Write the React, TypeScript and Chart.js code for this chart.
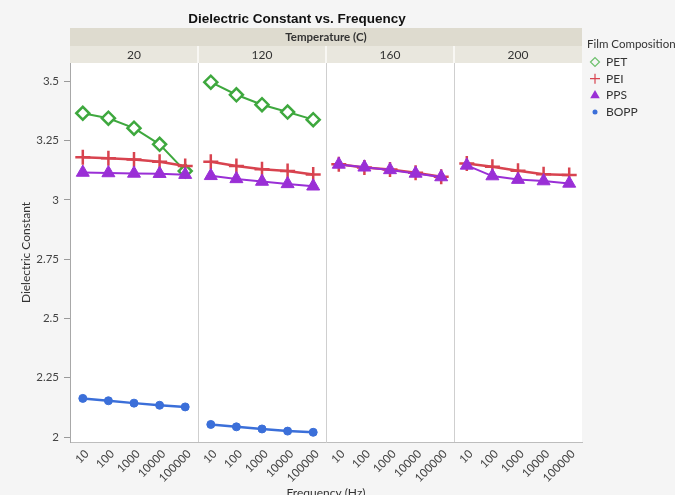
import React, { useEffect, useRef } from 'react';
import { Chart, registerables } from 'chart.js';

Chart.register(...registerables);

const chartTitle = 'Dielectric Constant vs. Frequency';
const groupTitle = 'Temperature (C)';
const legendTitle = 'Film Composition';
const xTitle = 'Frequency (Hz)';
const yTitle = 'Dielectric Constant';

const frequencies = ['10', '100', '1000', '10000', '100000'];
const temperatures = ['20', '120', '160', '200'];
const yTicks = [2, 2.25, 2.5, 2.75, 3, 3.25, 3.5];

// one array per temperature panel (null = no data in that panel)
const PET: (number[] | null)[] = [
  [3.366, 3.345, 3.303, 3.235, 3.122],
  [3.497, 3.444, 3.402, 3.371, 3.339],
  null,
  null,
];
const PEI: (number[] | null)[] = [
  [3.180, 3.176, 3.171, 3.161, 3.143],
  [3.161, 3.143, 3.130, 3.122, 3.108],
  [3.151, 3.137, 3.129, 3.115, 3.098],
  [3.154, 3.140, 3.123, 3.109, 3.105],
];
const PPS: (number[] | null)[] = [
  [3.116, 3.114, 3.112, 3.111, 3.107],
  [3.102, 3.089, 3.078, 3.068, 3.058],
  [3.150, 3.138, 3.127, 3.112, 3.097],
  [3.146, 3.101, 3.086, 3.080, 3.070],
];
const BOPP: (number[] | null)[] = [
  [2.163, 2.153, 2.143, 2.134, 2.127],
  [2.053, 2.043, 2.034, 2.025, 2.020],
  null,
  null,
];

const seriesNames = ['PET', 'PEI', 'PPS', 'BOPP'];
const seriesData = [PET, PEI, PPS, BOPP];

const FONT = 'Lato, "Noto Sans", sans-serif';

const styles: any[] = [
  { color: '#3ea83e', pointStyle: 'rectRot', radius: 6.5, pointBorderWidth: 2.5, bg: '#ffffff', lineWidth: 2, order: 3 },
  { color: '#d8434f', pointStyle: 'cross', radius: 7.5, pointBorderWidth: 2.5, bg: '#d8434f', lineWidth: 2.5, order: 2 },
  { color: '#9a2fd6', pointStyle: 'triangle', radius: 7.5, pointBorderWidth: 1, bg: '#9a2fd6', lineWidth: 2, order: 1 },
  { color: '#3b6fd9', pointStyle: 'circle', radius: 4, pointBorderWidth: 1, bg: '#3b6fd9', lineWidth: 2.5, order: 0 },
];

function drawMarker(ctx: CanvasRenderingContext2D, kind: string, x: number, y: number, color: string) {
  ctx.save();
  ctx.strokeStyle = color;
  ctx.fillStyle = color;
  ctx.lineWidth = 1.2;
  ctx.beginPath();
  if (kind === 'rectRot') {
    const r = 4.5;
    ctx.moveTo(x - r, y);
    ctx.lineTo(x, y - r);
    ctx.lineTo(x + r, y);
    ctx.lineTo(x, y + r);
    ctx.closePath();
    ctx.strokeStyle = '#6cc06c';
    ctx.stroke();
  } else if (kind === 'cross') {
    const r = 5;
    ctx.moveTo(x - r, y);
    ctx.lineTo(x + r, y);
    ctx.moveTo(x, y - r);
    ctx.lineTo(x, y + r);
    ctx.stroke();
  } else if (kind === 'triangle') {
    const r = 5.5;
    ctx.moveTo(x, y - r);
    ctx.lineTo(x + r * 0.87, y + r * 0.5);
    ctx.lineTo(x - r * 0.87, y + r * 0.5);
    ctx.closePath();
    ctx.fill();
  } else {
    ctx.arc(x, y, 2.5, 0, Math.PI * 2);
    ctx.fill();
  }
  ctx.restore();
}

const decorPlugin = {
  id: 'decor',
  beforeDraw(chart: any) {
    const { ctx, chartArea, width, height } = chart;
    const x = chart.scales.x;
    ctx.save();
    ctx.fillStyle = '#f5f5f5';
    ctx.fillRect(0, 0, width, height);
    ctx.fillStyle = '#ffffff';
    ctx.fillRect(chartArea.left, chartArea.top, chartArea.right - chartArea.left, chartArea.bottom - chartArea.top);
    // header bands
    const b1Top = chartArea.top - 35;
    const b2Top = chartArea.top - 17;
    ctx.fillStyle = '#dedbcf';
    ctx.fillRect(chartArea.left, b1Top, chartArea.right - chartArea.left, 18);
    ctx.fillStyle = '#e9e7de';
    ctx.fillRect(chartArea.left, b2Top, chartArea.right - chartArea.left, 17);
    ctx.fillStyle = '#333';
    ctx.font = `bold 11.5px ${FONT}`;
    ctx.textAlign = 'center';
    ctx.textBaseline = 'middle';
    ctx.fillText(groupTitle, (chartArea.left + chartArea.right) / 2, b1Top + 9);
    ctx.font = `12px ${FONT}`;
    const n = frequencies.length;
    temperatures.forEach((t, p) => {
      const a = x.getPixelForValue(p * n);
      const b = x.getPixelForValue(p * n + n - 1);
      const half = (x.getPixelForValue(1) - x.getPixelForValue(0)) / 2;
      ctx.fillStyle = '#333';
      ctx.fillText(t, (a + b) / 2, b2Top + 9);
      if (p > 0) {
        ctx.fillStyle = '#f8f7f3';
        ctx.fillRect(Math.round(a - half) - 1, b2Top, 2, 17);
      }
    });
    ctx.restore();
  },
  afterDraw(chart: any) {
    const { ctx, chartArea } = chart;
    ctx.save();
    ctx.fillStyle = '#111';
    ctx.textAlign = 'center';
    ctx.textBaseline = 'middle';
    ctx.font = `bold 13.5px "Liberation Sans", Arial, sans-serif`;
    ctx.fillText(chartTitle, 297, chartArea.top - 44);
    ctx.font = `12px ${FONT}`;
    ctx.fillStyle = '#333';
    ctx.fillText(xTitle, (chartArea.left + chartArea.right) / 2, chartArea.bottom + 51);
    ctx.save();
    ctx.translate(chartArea.left - 44, (chartArea.top + chartArea.bottom) / 2);
    ctx.rotate(-Math.PI / 2);
    ctx.fillText(yTitle, 0, 0);
    ctx.restore();
    // legend
    const lx = chartArea.right + 5;
    ctx.textAlign = 'left';
    ctx.fillStyle = '#333';
    ctx.font = `11.5px ${FONT}`;
    ctx.fillText(legendTitle, lx, chartArea.top - 19);
    ctx.font = `12px ${FONT}`;
    seriesNames.forEach((name, i) => {
      const ly = chartArea.top - 1 + i * 16.7;
      drawMarker(ctx, styles[i].pointStyle, lx + 8, ly, styles[i].color);
      ctx.fillStyle = '#333';
      ctx.fillText(name, lx + 19, ly);
    });
    ctx.restore();
  },
};

export default function App() {
  const ref = useRef<HTMLCanvasElement>(null);
  useEffect(() => {
    if (!ref.current) return;
    const n = frequencies.length;
    const labels = temperatures.flatMap(() => frequencies);
    const datasets: any[] = [];
    temperatures.forEach((_, p) => {
      seriesData.forEach((s, si) => {
        const vals = s[p];
        if (!vals) return;
        const data = labels.map((_l, i) => (i >= p * n && i < p * n + n ? vals[i - p * n] : null));
        const st = styles[si];
        datasets.push({
          label: seriesNames[si],
          data,
          borderColor: st.color,
          backgroundColor: st.bg,
          borderWidth: st.lineWidth,
          pointStyle: st.pointStyle,
          pointRadius: st.radius,
          pointBorderWidth: st.pointBorderWidth,
          pointBorderColor: st.color,
          pointBackgroundColor: st.bg,
          spanGaps: false,
          tension: 0,
          order: st.order,
        });
      });
    });
    const chart = new Chart(ref.current, {
      type: 'line',
      data: { labels, datasets },
      options: {
        responsive: false,
        animation: false,
        devicePixelRatio: 1,
        layout: { padding: { left: 30, top: 63, right: 93, bottom: 0 } },
        plugins: { legend: { display: false }, title: { display: false }, tooltip: { enabled: false } },
        scales: {
          x: {
            type: 'category',
            offset: true,
            grid: {
              offset: true,
              drawTicks: false,
              color: (c: any) => (c.index > 0 && c.index % n === 0 ? '#cfcfcf' : 'rgba(0,0,0,0)'),
              lineWidth: 1,
            },
            border: { display: true, color: '#bdbdbd' },
            ticks: {
              autoSkip: false,
              maxRotation: 45,
              minRotation: 45,
              padding: 5,
              labelOffset: 4,
              color: '#444',
              font: { family: FONT, size: 11.5 },
            },
            afterFit: (s: any) => { s.height = 53; },
          },
          y: {
            type: 'linear',
            min: 1.979,
            max: 3.578,
            afterBuildTicks: (s: any) => { s.ticks = yTicks.map((v) => ({ value: v })); },
            grid: { drawOnChartArea: false, drawTicks: true, tickLength: 6, color: '#9a9a9a' },
            border: { display: true, color: '#a8a8a8' },
            ticks: {
              padding: 5,
              color: '#444',
              font: { family: FONT, size: 11.5 },
              callback: (v: any) => String(v),
            },
            afterFit: (s: any) => { s.width = 40; },
          },
        },
      },
      plugins: [decorPlugin],
    });
    return () => chart.destroy();
  }, []);
  return (
    <div style={{ position: 'fixed', left: 0, top: 0, width: 675, height: 495 }}>
      <canvas ref={ref} width={675} height={495} style={{ display: 'block' }} />
    </div>
  );
}
